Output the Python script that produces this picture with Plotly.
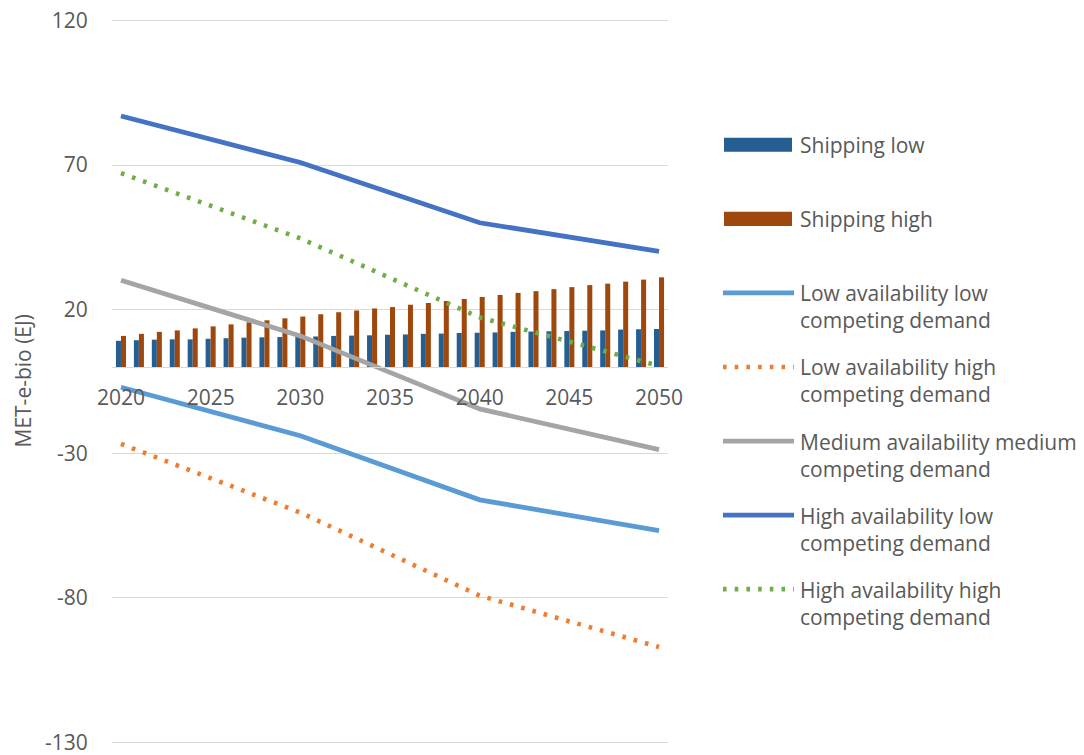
import plotly.graph_objects as go

# ---------------- data ----------------
years = list(range(2020, 2051))
shipping_low = [9.1, 9.3, 9.5, 9.6, 9.6, 9.8, 10.0, 10.2, 10.3, 10.4, 10.5, 10.6, 10.8, 10.9, 11.0,
                11.2, 11.3, 11.5, 11.6, 11.8, 11.9, 12.0, 12.2, 12.3, 12.4, 12.5, 12.6, 12.7, 13.0, 13.1, 13.2]
shipping_high = [10.8, 11.5, 12.2, 12.7, 13.4, 14.1, 14.8, 15.5, 16.2, 16.9, 17.5, 18.3, 19.0, 19.6, 20.3,
                 20.8, 21.6, 22.2, 22.9, 23.6, 24.3, 25.0, 25.7, 26.3, 27.0, 27.7, 28.4, 28.9, 29.6, 30.3, 31.1]

scenario_years = [2020, 2030, 2040, 2050]
low_avail_low_demand = [-7.0, -23.8, -46.0, -56.7]
low_avail_high_demand = [-26.6, -50.4, -79.2, -97.0]
med_avail_med_demand = [30.1, 10.8, -14.5, -28.6]
high_avail_low_demand = [87.0, 70.9, 50.0, 40.1]
high_avail_high_demand = [67.2, 44.6, 17.2, 0.4]

y_ticks = [-130, -80, -30, 20, 70, 120]
x_ticks = [2020, 2025, 2030, 2035, 2040, 2045, 2050]

names = ["Shipping low", "Shipping high",
         "Low availability low<br>competing demand",
         "Low availability high<br>competing demand",
         "Medium availability medium<br>competing demand",
         "High availability low<br>competing demand",
         "High availability high<br>competing demand"]

# ---------------- styles ----------------
FONT = "Open Sans"
TXT = "#595959"
GRID = "#D9D9D9"
c_low = "#255E91"
c_high = "#9E480E"
c_lblue = "#5B9BD5"
c_orange = "#ED7D31"
c_grey = "#A5A5A5"
c_dblue = "#4472C4"
c_green = "#70AD47"
LW = 4.8
DLW = 4.6
DOT = "3.6px,8.1px"

W, H = 1084, 755
Y_MIN, Y_MAX = -130, 120
PAD_U = 0.6                      # small range padding so edge gridlines are drawn
K = (742 - 21) / (Y_MAX - Y_MIN)  # px per unit
L, R = 112, 416
T = 21 - PAD_U * K
B = 13 - PAD_U * K
PW, PH = W - L - R, H - T - B

def xp(px):
    return (px - L) / PW

def yp(py):
    return (H - B - py) / PH

fig = go.Figure()
fig.add_trace(go.Bar(x=years, y=shipping_low, name=names[0], marker=dict(color=c_low, line=dict(width=0))))
fig.add_trace(go.Bar(x=years, y=shipping_high, name=names[1], marker=dict(color=c_high, line=dict(width=0))))

line_series = [
    (low_avail_low_demand, c_lblue, "solid", names[2]),
    (low_avail_high_demand, c_orange, DOT, names[3]),
    (med_avail_med_demand, c_grey, "solid", names[4]),
    (high_avail_low_demand, c_dblue, "solid", names[5]),
    (high_avail_high_demand, c_green, DOT, names[6]),
]
for vals, col, dash, nm in line_series:
    fig.add_trace(go.Scatter(x=scenario_years, y=vals, mode="lines", name=nm.replace("<br>", " "),
                             line=dict(color=col, width=(DLW if dash == DOT else LW), dash=dash)))

# ---------------- custom legend (Excel-style) ----------------
shapes = []
annotations = []
entry_y = [145, 219, 293, 367, 441, 515, 589]
sym_x0, sym_x1 = 724, 792
txt_x = 798
for i, col in enumerate([c_low, c_high]):
    cy = entry_y[i]
    shapes.append(dict(type="rect", xref="paper", yref="paper",
                       x0=xp(sym_x0), x1=xp(sym_x1), y0=yp(cy + 7), y1=yp(cy - 7),
                       fillcolor=col, line=dict(width=0)))
for j, (vals, col, dash, nm) in enumerate(line_series):
    cy = entry_y[j + 2]
    shapes.append(dict(type="line", xref="paper", yref="paper",
                       x0=xp(sym_x0 - 1), x1=xp(sym_x1 + 2), y0=yp(cy), y1=yp(cy),
                       line=dict(color=col, width=(DLW if dash == DOT else LW), dash=dash)))
for i, nm in enumerate(names):
    cy = entry_y[i]
    if "<br>" in nm:
        cy += 14
    annotations.append(dict(text=nm, xref="paper", yref="paper", x=xp(txt_x), y=yp(cy),
                            xanchor="left", yanchor="middle", align="left", showarrow=False,
                            font=dict(family=FONT, size=21, color=TXT)))
annotations.append(dict(text="MET-e-bio (EJ)", xref="paper", yref="paper", x=xp(22), y=yp(381.5),
                        textangle=-90, xanchor="center", yanchor="middle", showarrow=False,
                        font=dict(family=FONT, size=21, color=TXT)))

fig.update_layout(
    template="none",
    width=W, height=H,
    margin=dict(l=L, r=R, t=T, b=B, pad=0, autoexpand=False),
    paper_bgcolor="white", plot_bgcolor="white",
    barmode="group", bargap=0.44, bargroupgap=0,
    showlegend=False,
    font=dict(family=FONT, size=21, color=TXT),
    shapes=shapes, annotations=annotations,
    xaxis=dict(range=[2019.5, 2050.5], tickvals=x_ticks, ticktext=[str(v) for v in x_ticks],
               anchor="free", position=(0 - (Y_MIN - PAD_U)) / (Y_MAX - Y_MIN + 2 * PAD_U),
               showgrid=False, zeroline=False, automargin=False,
               showline=True, linecolor=GRID, linewidth=1,
               ticks="outside", ticklen=12, tickcolor="rgba(0,0,0,0)",
               tickfont=dict(family=FONT, size=21, color=TXT)),
    yaxis=dict(range=[Y_MIN - PAD_U, Y_MAX + PAD_U], tickvals=y_ticks, ticktext=[str(v) for v in y_ticks],
               showgrid=True, gridcolor=GRID, gridwidth=1, zeroline=False, showline=False, automargin=False,
               ticks="outside", ticklen=19, tickcolor="rgba(0,0,0,0)", ticklabeloverflow="allow",
               tickfont=dict(family=FONT, size=21, color=TXT)),
)

fig.write_html("out.html")
